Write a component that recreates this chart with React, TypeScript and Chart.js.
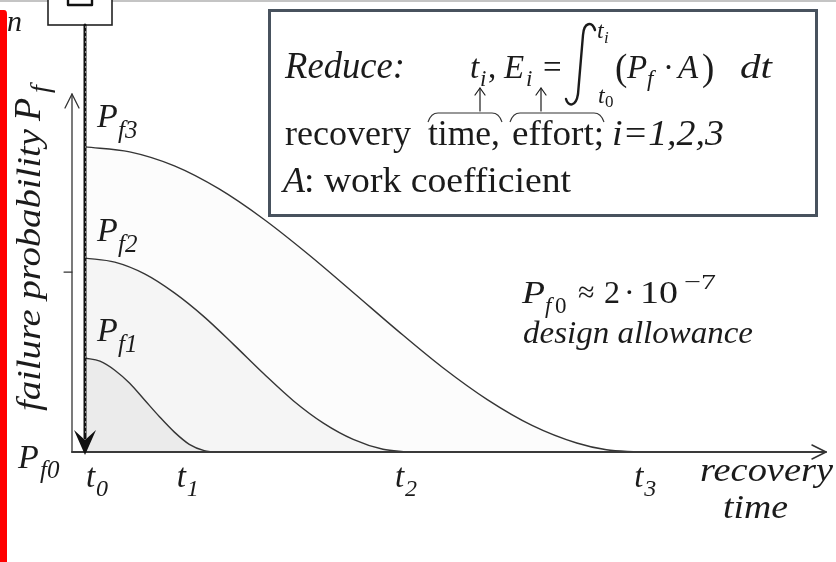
import { useEffect, useRef } from 'react';
import { Chart, registerables } from 'chart.js';

Chart.register(...registerables);

const W = 836;
const H = 562;

// Recovery-time axis in arbitrary units (t0 = 0); probability axis in relative units (Pf0 = 0).
const pf1Times = [0, 2, 4, 6, 8, 10, 12, 14, 16, 17.2];
const pf1Values = [20.8, 20.1, 18.1, 15.2, 11.5, 7.8, 4.4, 1.7, 0.3, 0];

const pf2Times = [0, 4, 8, 12, 16, 20, 24, 28, 32, 36, 40, 43.2];
const pf2Values = [42.9, 42.0, 39.4, 35.2, 29.9, 23.7, 17.3, 11.3, 6.4, 2.8, 0.6, 0];

const pf3Times = [0, 6, 12, 18, 24, 30, 36, 42, 48, 54, 60, 66, 70, 74.2];
const pf3Values = [67.5, 66.4, 63.3, 58.2, 51.5, 43.7, 35.3, 26.8, 18.7, 11.6, 5.9, 2.0, 0.5, 0];

const curveSubs = ['f1', 'f2', 'f3'];
const fillColors = ['#ebebeb', '#f5f5f5', '#fcfcfc'];

// time tick labels t0..t3 on the recovery-time axis
const tickTimes = [1.6, 13.8, 43.1, 75.2];
const tickSubs = ['0', '1', '2', '3'];

// minor tick on the probability axis
const probTick = 39.8;

const INK = '#1b1b1b';
const SERIF = '"Liberation Serif", Tinos, "Times New Roman", Times, serif';

function text(
  ctx: CanvasRenderingContext2D,
  s: string,
  x: number,
  y: number,
  size: number,
  italic = false,
  width?: number,
  color = INK
) {
  ctx.save();
  ctx.font = `${italic ? 'italic ' : ''}${size}px ${SERIF}`;
  ctx.textAlign = 'left';
  ctx.textBaseline = 'alphabetic';
  ctx.fillStyle = color;
  const m = ctx.measureText(s).width;
  ctx.translate(x, y);
  if (width) ctx.scale(width / m, 1);
  ctx.fillText(s, 0, 0);
  ctx.restore();
  return width ?? m;
}

function line(ctx: CanvasRenderingContext2D, pts: number[][], lw: number, color = INK) {
  ctx.save();
  ctx.strokeStyle = color;
  ctx.lineWidth = lw;
  ctx.lineJoin = 'round';
  ctx.lineCap = 'round';
  ctx.beginPath();
  pts.forEach(([px, py], i) => (i ? ctx.lineTo(px, py) : ctx.moveTo(px, py)));
  ctx.stroke();
  ctx.restore();
}

const diagramPlugin = {
  id: 'diagram',
  beforeDraw(chart: Chart) {
    const ctx = chart.ctx;
    ctx.save();
    ctx.fillStyle = '#ffffff';
    ctx.fillRect(0, 0, W, H);
    ctx.restore();
  },
  afterDraw(chart: Chart) {
    const ctx = chart.ctx;
    const xs = chart.scales.x;
    const ys = chart.scales.y;
    const x0 = xs.getPixelForValue(0);
    const y0 = ys.getPixelForValue(0);
    const axisX = x0 - 13;

    // frame edges
    ctx.save();
    ctx.fillStyle = '#c4c4c4';
    ctx.fillRect(0, 0, W, 2);
    ctx.fillStyle = '#ff0000';
    ctx.beginPath();
    ctx.moveTo(0, 10);
    ctx.lineTo(4, 10);
    ctx.quadraticCurveTo(7, 10, 7, 14);
    ctx.lineTo(7, H);
    ctx.lineTo(0, H);
    ctx.closePath();
    ctx.fill();
    ctx.restore();

    // small block at the top of the vertical arrow
    ctx.save();
    ctx.fillStyle = '#fff';
    ctx.fillRect(48, -2, 64, 27);
    ctx.strokeStyle = '#222';
    ctx.lineWidth = 1.6;
    ctx.strokeRect(48, -2, 64, 27);
    ctx.restore();
    line(ctx, [[68, 0], [68, 5], [92, 5], [92, 0]], 2.4, '#111');

    text(ctx, 'n', 7, 31, 30, true);

    // rotated probability axis title
    ctx.save();
    ctx.translate(40, 411);
    ctx.rotate(-Math.PI / 2);
    text(ctx, 'failure probability', 0, 0, 34, true, 282);
    text(ctx, 'P', 290, 0, 38, true);
    text(ctx, 'f', 318, 9, 28, true);
    ctx.restore();

    // probability axis with open arrow and a tick
    line(ctx, [[axisX, y0], [axisX, 94]], 1.3, '#333');
    line(ctx, [[axisX - 7, 108], [axisX, 94], [axisX + 7, 108]], 1.3, '#333');
    line(ctx, [[axisX - 8, ys.getPixelForValue(probTick)], [axisX, ys.getPixelForValue(probTick)]], 1.2, '#333');

    // recovery-time axis
    const xEnd = chart.chartArea.right - 4;
    line(ctx, [[axisX, y0], [xEnd, y0]], 2, '#3a3a3a');
    line(ctx, [[xEnd - 14, y0 - 7], [xEnd, y0], [xEnd - 14, y0 + 7]], 1.5, '#333');

    // thick downward arrow along t0
    line(ctx, [[x0, 25], [x0, y0 - 14]], 3, '#111');
    ctx.save();
    ctx.strokeStyle = 'rgba(150,150,150,0.9)';
    ctx.lineWidth = 1;
    ctx.setLineDash([2, 3]);
    ctx.beginPath();
    ctx.moveTo(x0 + 0.5, 26);
    ctx.lineTo(x0 + 0.5, y0 - 16);
    ctx.stroke();
    ctx.restore();
    ctx.save();
    ctx.fillStyle = '#111';
    ctx.beginPath();
    ctx.moveTo(x0, y0 + 3);
    ctx.lineTo(x0 - 11, y0 - 22);
    ctx.lineTo(x0, y0 - 12);
    ctx.lineTo(x0 + 11, y0 - 22);
    ctx.closePath();
    ctx.fill();
    ctx.restore();

    // peak labels P_f1..P_f3 next to each curve start
    const peaks = [pf1Values[0], pf2Values[0], pf3Values[0]];
    peaks.forEach((v, i) => {
      const py = ys.getPixelForValue(v) - 17 - (i === 2 ? 3 : 0);
      text(ctx, 'P', x0 + 12, py, 34, true);
      text(ctx, curveSubs[i], x0 + 33, py + 11, 25, true);
    });
    text(ctx, 'P', 18, y0 + 16, 34, true);
    text(ctx, 'f0', 40, y0 + 26, 25, true);

    // time tick labels
    tickTimes.forEach((t, i) => {
      const px = xs.getPixelForValue(t);
      text(ctx, 't', px - 11, y0 + 35, 33, true);
      text(ctx, tickSubs[i], px - 1, y0 + 44, 24, true);
    });

    text(ctx, 'recovery', 700, 481, 33, true, 133);
    text(ctx, 'time', 723, 518, 33, true, 65);

    // design allowance note
    text(ctx, 'P', 522, 303, 32, true, 23);
    text(ctx, 'f', 545, 313, 23, true);
    text(ctx, '0', 555, 313, 23, false);
    text(ctx, '\u2248', 578, 302, 30, false);
    text(ctx, '2', 604, 303, 32, false);
    text(ctx, '\u00b7', 624, 303, 32, false);
    text(ctx, '10', 640, 303, 32, false, 38);
    text(ctx, '\u22127', 684, 289, 22, false, 32);
    text(ctx, 'design allowance', 523, 343, 31, true, 230);

    // objective box
    ctx.save();
    ctx.fillStyle = '#ffffff';
    ctx.fillRect(269, 10, 548, 206);
    ctx.strokeStyle = '#48525e';
    ctx.lineWidth = 3;
    ctx.strokeRect(269.5, 10.5, 547, 205);
    ctx.restore();

    text(ctx, 'Reduce:', 285, 78, 38, true, 120);
    text(ctx, 't', 470, 78, 33, true);
    text(ctx, 'i', 480, 86, 23, true);
    text(ctx, ',', 488, 78, 33, false);
    text(ctx, 'E', 504, 78, 33, true);
    text(ctx, 'i', 526, 86, 23, true);
    text(ctx, '=', 543, 78, 33, false);
    // integral sign
    ctx.save();
    ctx.strokeStyle = INK;
    ctx.lineWidth = 2.4;
    ctx.lineCap = 'round';
    ctx.beginPath();
    ctx.moveTo(595, 30);
    ctx.bezierCurveTo(592, 21, 584, 22, 583, 35);
    ctx.lineTo(578, 94);
    ctx.bezierCurveTo(576, 107, 568, 107, 566, 99);
    ctx.stroke();
    ctx.restore();
    text(ctx, 't', 597, 38, 24, true);
    text(ctx, 'i', 604, 43, 17, true);
    text(ctx, 't', 598, 103, 24, true);
    text(ctx, '0', 605, 107, 17, false);
    text(ctx, '(', 615, 80, 37, false);
    text(ctx, 'P', 627, 78, 33, true);
    text(ctx, 'f', 647, 86, 23, true);
    text(ctx, '\u00b7', 663, 78, 33, false);
    text(ctx, 'A', 678, 78, 33, true);
    text(ctx, ')', 702, 80, 37, false);
    text(ctx, 'dt', 740, 78, 33, true, 32);

    // arrows and braces linking the words to t_i and E_i
    [480, 541].forEach((ax) => {
      line(ctx, [[ax, 111], [ax, 88]], 1.2);
      line(ctx, [[ax - 5, 95], [ax, 88], [ax + 5, 95]], 1.2);
    });
    ctx.save();
    ctx.strokeStyle = '#333';
    ctx.lineWidth = 1.1;
    [[428, 502], [510, 604]].forEach(([a, b]) => {
      ctx.beginPath();
      ctx.moveTo(a, 122);
      ctx.quadraticCurveTo(a + 3, 113, a + 10, 113);
      ctx.lineTo(b - 10, 113);
      ctx.quadraticCurveTo(b - 3, 113, b, 122);
      ctx.stroke();
    });
    ctx.restore();

    text(ctx, 'recovery', 285, 145, 36, false, 126);
    text(ctx, 'time,', 428, 145, 36, false, 72);
    text(ctx, 'effort;', 512, 145, 36, false, 92);
    text(ctx, 'i=1,2,3', 612, 145, 36, true, 112);
    text(ctx, 'A', 283, 192, 36, true);
    text(ctx, ': work coefficient', 304, 192, 36, false, 267);
  },
};

export default function App() {
  const canvasRef = useRef<HTMLCanvasElement | null>(null);

  useEffect(() => {
    const canvas = canvasRef.current;
    if (!canvas) return;
    const toPoints = (ts: number[], vs: number[]) => ts.map((t, i) => ({ x: t, y: vs[i] }));
    const series = [
      toPoints(pf1Times, pf1Values),
      toPoints(pf2Times, pf2Values),
      toPoints(pf3Times, pf3Values),
    ];
    const chart = new Chart(canvas, {
      type: 'line',
      data: {
        datasets: series.map((pts, i) => ({
          label: 'P' + curveSubs[i],
          data: pts,
          borderColor: '#353535',
          borderWidth: 1.4,
          backgroundColor: fillColors[i],
          fill: 'origin',
          pointRadius: 0,
          cubicInterpolationMode: 'monotone' as const,
        })),
      },
      options: {
        animation: false,
        responsive: false,
        devicePixelRatio: 1,
        layout: { padding: { left: 85, right: 6, top: 0, bottom: 110 } },
        plugins: { legend: { display: false }, tooltip: { enabled: false } },
        events: [],
        scales: {
          x: { type: 'linear', min: 0, max: 100, display: false },
          y: { type: 'linear', min: 0, max: 100, display: false },
        },
      },
      plugins: [diagramPlugin],
    });
    // make sure the serif faces are ready, then repaint with them
    let alive = true;
    const fonts = (document as any).fonts;
    if (fonts && fonts.load) {
      Promise.all([
        fonts.load('30px "Liberation Serif"'),
        fonts.load('italic 30px "Liberation Serif"'),
      ])
        .catch(() => undefined)
        .then(() => {
          if (alive) chart.draw();
        });
    }
    return () => {
      alive = false;
      chart.destroy();
    };
  }, []);

  return (
    <div style={{ position: 'absolute', left: 0, top: 0, width: W, height: H }}>
      <span style={{ position: 'absolute', left: -9999, fontFamily: '"Liberation Serif"' }}>
        <i>recovery</i> time
      </span>
      <canvas ref={canvasRef} width={W} height={H} style={{ width: W, height: H, display: 'block' }} />
    </div>
  );
}
